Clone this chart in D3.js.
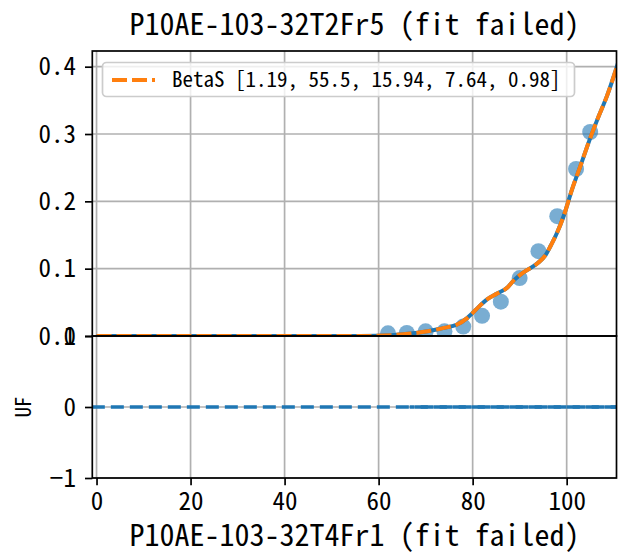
<!DOCTYPE html>
<html>
<head>
<meta charset="UTF-8">
<script src="https://cdn.jsdelivr.net/npm/d3@7"></script>
<style>
  body { margin: 0; background: #fff; }
  text { font-family: "Noto Sans Mono CJK SC", "DejaVu Sans Mono", monospace; fill: #000; }
</style>
</head>
<body>
<svg id="chart" width="618" height="554"></svg>
<script>
// ---- data ----
const topTitle = "P10AE-103-32T2Fr5 (fit failed)";
const bottomLabel = "P10AE-103-32T4Fr1 (fit failed)";
const legendLabel = "BetaS [1.19, 55.5, 15.94, 7.64, 0.98]";

// measured points
const ptX = [62, 66, 70, 74, 78, 82, 86, 90, 94, 98, 102, 105];
const ptY = [0.004, 0.0045, 0.007, 0.007, 0.014, 0.030, 0.051, 0.086, 0.126, 0.178, 0.248, 0.303];

// fitted curve (BetaS)
const fitX = [0, 56, 63.3, 66.8, 70.4, 73.9, 76.7, 78.9, 81.4, 82.8, 85.2, 87.4, 88.8, 90.9, 93.8, 95.5, 96.6, 98.0, 99.4, 101.2, 103.0, 104.7, 106.5, 108.6, 110.9];
const fitY = [0, 0, 0.0015, 0.0036, 0.007, 0.012, 0.017, 0.027, 0.044, 0.053, 0.063, 0.072, 0.083, 0.095, 0.108, 0.120, 0.134, 0.154, 0.179, 0.219, 0.254, 0.288, 0.321, 0.357, 0.405];

// UF panel
const ufX = [-1, 112];
const ufY = [0, 0];
const uf2X = [66.6, 112];
const uf2Y = [0, 0];

const xTicks = [0, 20, 40, 60, 80, 100];
const topTicks = [0, 0.1, 0.2, 0.3, 0.4];
const botTicks = [-1, 0, 1];

// ---- layout ----
const svg = d3.select("#chart");
const L = 92.3, R = 616.5;
const topT = 51, topB = 336, botT = 336, botB = 478;

const x = d3.scaleLinear([-0.9, 110.6], [L, R]);
const yTop = d3.scaleLinear([0, 0.4233], [topB, topT]);
const yBot = d3.scaleLinear([-1, 1], [botB, botT]);

const blue = "#1f77b4", orange = "#ff7f0e", grid = "#b0b0b0";

svg.append("defs").selectAll("clipPath")
  .data([["clipTop", topT, topB], ["clipBot", botT, botB]])
  .join("clipPath").attr("id", d => d[0])
  .append("rect").attr("x", L).attr("y", d => d[1]).attr("width", R - L).attr("height", d => d[2] - d[1]);

// grid
function drawGrid(y, ticks, t, b) {
  const g = svg.append("g").attr("stroke", grid).attr("stroke-width", 1.7);
  g.selectAll(".vx").data(xTicks).join("line")
    .attr("x1", d => x(d)).attr("x2", d => x(d)).attr("y1", t).attr("y2", b);
  g.selectAll(".hy").data(ticks).join("line")
    .attr("x1", L).attr("x2", R).attr("y1", d => y(d)).attr("y2", d => y(d));
}
drawGrid(yTop, topTicks, topT, topB);
drawGrid(yBot, botTicks, botT, botB);

// top panel
const line = (xs, ys, y) => d3.line().x((d, i) => x(xs[i])).y(d => y(d)).curve(d3.curveMonotoneX)(ys);
const gTop = svg.append("g").attr("clip-path", "url(#clipTop)");
gTop.selectAll("circle").data(ptY).join("circle")
  .attr("cx", (d, i) => x(ptX[i])).attr("cy", d => yTop(d)).attr("r", 8)
  .attr("fill", blue).attr("fill-opacity", 0.6);
gTop.append("path").attr("d", line(fitX, fitY, yTop))
  .attr("fill", "none").attr("stroke", blue).attr("stroke-width", 4);
gTop.append("path").attr("d", line(fitX, fitY, yTop))
  .attr("fill", "none").attr("stroke", orange).attr("stroke-width", 4)
  .attr("stroke-dasharray", "15,5");

// bottom panel
const gBot = svg.append("g").attr("clip-path", "url(#clipBot)");
gBot.append("path").attr("d", line(ufX, ufY, yBot))
  .attr("fill", "none").attr("stroke", blue).attr("stroke-width", 3.6).attr("stroke-dasharray", "13,6");
gBot.append("path").attr("d", line(uf2X, uf2Y, yBot))
  .attr("fill", "none").attr("stroke", blue).attr("stroke-width", 3.6).attr("stroke-dasharray", "13,6")
  .attr("stroke-dashoffset", 8);

// spines
svg.append("g").attr("fill", "none").attr("stroke", "#000").attr("stroke-width", 1.7)
  .selectAll("rect").data([[topT, topB], [botT, botB]]).join("rect")
  .attr("x", L).attr("y", d => d[0]).attr("width", R - L).attr("height", d => d[1] - d[0]);

// axes
const tickFont = "25px";
const axTop = svg.append("g").attr("transform", `translate(${L},0)`)
  .call(d3.axisLeft(yTop).tickValues(topTicks).tickFormat(d3.format(".1f")).tickSize(7.3).tickPadding(9));
const axBot = svg.append("g").attr("transform", `translate(${L},0)`)
  .call(d3.axisLeft(yBot).tickValues(botTicks).tickFormat(d => d < 0 ? "\u2212" + (-d) : d).tickSize(7.3).tickPadding(9));
const axX = svg.append("g").attr("transform", `translate(0,${botB})`)
  .call(d3.axisBottom(x).tickValues(xTicks).tickSize(7.3).tickPadding(5));
[axTop, axBot, axX].forEach(a => {
  a.select(".domain").remove();
  a.selectAll(".tick line").attr("stroke-width", 1.7);
  a.selectAll("text").style("font-size", tickFont);
});
axX.selectAll("text").attr("dy", "0.78em");

// titles
svg.append("text").attr("x", (L + R) / 2).attr("y", 35).attr("text-anchor", "middle")
  .style("font-size", "30px").text(topTitle);
svg.append("text").attr("x", (L + R) / 2).attr("y", 546).attr("text-anchor", "middle")
  .style("font-size", "30px").text(bottomLabel);
svg.append("text").attr("transform", `translate(31,${yBot(0)}) rotate(-90)`).attr("text-anchor", "middle")
  .style("font-size", "21px").text("UF");

// legend
const lg = svg.append("g");
lg.append("rect").attr("x", 102.5).attr("y", 62.5).attr("width", 472).attr("height", 34).attr("rx", 4)
  .attr("fill", "#fff").attr("fill-opacity", 0.8).attr("stroke", "#cccccc").attr("stroke-width", 1.7);
lg.append("line").attr("x1", 112).attr("x2", 155).attr("y1", 80).attr("y2", 80)
  .attr("stroke", orange).attr("stroke-width", 4).attr("stroke-dasharray", "15,5");
lg.append("text").attr("x", 172).attr("y", 80).attr("dy", "0.35em").style("font-size", "21px").text(legendLabel);
</script>
</body>
</html>
